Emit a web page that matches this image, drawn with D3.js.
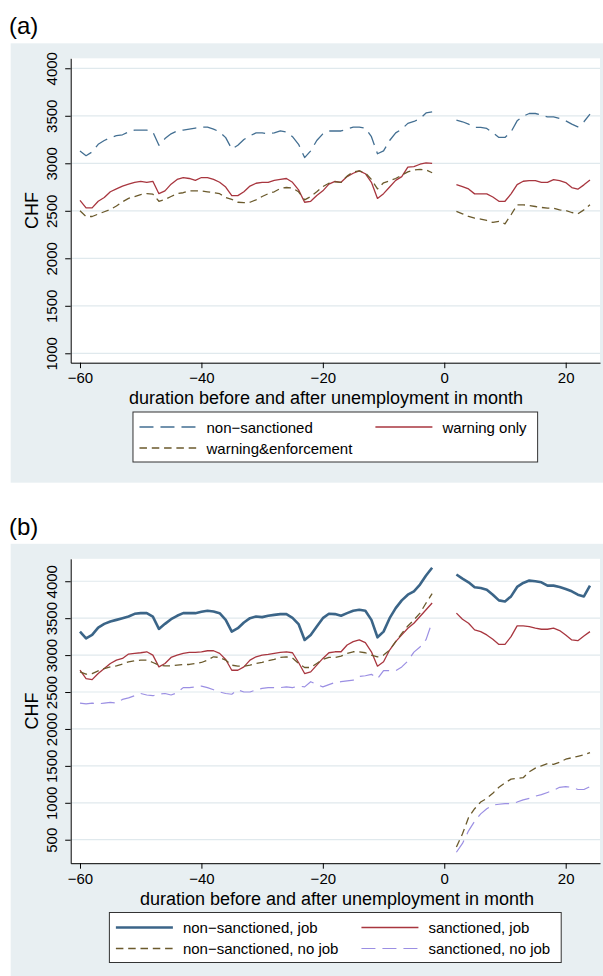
<!DOCTYPE html>
<html>
<head>
<meta charset="utf-8">
<script src="https://cdn.jsdelivr.net/npm/d3@7"></script>
<style>
  body { margin: 0; background: #fff; }
  svg { display: block; font-family: "Liberation Sans", Arial, Helvetica, sans-serif; }
</style>
</head>
<body>
<svg id="chart" width="603" height="976"></svg>
<script>
// months relative to the start of unemployment
const monthsBefore = [-60, -59, -58, -57, -56, -55, -54, -53, -52, -51, -50, -49, -48, -47, -46, -45, -44, -43, -42, -41,
  -40, -39, -38, -37, -36, -35, -34, -33, -32, -31, -30, -29, -28, -27, -26, -25, -24, -23, -22, -21,
  -20, -19, -18, -17, -16, -15, -14, -13, -12, -11, -10, -9, -8, -7, -6, -5, -4, -3, -2];
const monthsAfter = [2, 3, 4, 5, 6, 7, 8, 9, 10, 11, 12, 13, 14, 15, 16, 17, 18, 19, 20, 21, 22, 23, 24];

const xTicks = [-60, -40, -20, 0, 20];
const yTicksA = [1000, 1500, 2000, 2500, 3000, 3500, 4000];
const yTicksB = [500, 1000, 1500, 2000, 2500, 3000, 3500, 4000];

// panel (a)
const aNonSanctionedBefore = [3130, 3080, 3120, 3200, 3240, 3270, 3290, 3300, 3330, 3350, 3350, 3350, 3330, 3190, 3260, 3310, 3340, 3350, 3360, 3370,
  3380, 3380, 3360, 3330, 3270, 3150, 3190, 3250, 3290, 3320, 3320, 3310, 3320, 3340, 3330, 3280, 3200, 3060, 3130, 3240,
  3310, 3340, 3340, 3340, 3360, 3380, 3380, 3370, 3280, 3100, 3130, 3240, 3320, 3360, 3420, 3440, 3470, 3530, 3540];
const aNonSanctionedAfter = [3455, 3437, 3412, 3377, 3377, 3367, 3321, 3272, 3272, 3331, 3447, 3496, 3524, 3524, 3507, 3489, 3489, 3471, 3447, 3412, 3384, 3437, 3517];
const aWarningBefore = [2610, 2530, 2530, 2600, 2640, 2700, 2730, 2760, 2780, 2800, 2810, 2800, 2810, 2680, 2710, 2780, 2830, 2850, 2840, 2820,
  2850, 2850, 2830, 2800, 2750, 2660, 2660, 2700, 2760, 2790, 2800, 2800, 2820, 2830, 2840, 2800, 2720, 2590, 2600, 2660,
  2710, 2780, 2810, 2800, 2860, 2895, 2920, 2890, 2800, 2630, 2680, 2750, 2820, 2860, 2960, 2965, 2990, 3005, 3000];
const aWarningAfter = [2776, 2755, 2730, 2678, 2678, 2678, 2645, 2600, 2600, 2678, 2776, 2811, 2818, 2818, 2800, 2800, 2828, 2818, 2797, 2745, 2727, 2773, 2825];
const aEnforcementBefore = [2500, 2440, 2440, 2465, 2490, 2515, 2550, 2595, 2630, 2650, 2670, 2680, 2675, 2600, 2620, 2650, 2680, 2690, 2710, 2710,
  2710, 2700, 2690, 2680, 2640, 2620, 2590, 2585, 2590, 2615, 2650, 2680, 2700, 2735, 2745, 2740, 2700, 2615, 2650, 2700,
  2755, 2790, 2805, 2800, 2865, 2910, 2920, 2900, 2830, 2730, 2795, 2815, 2840, 2875, 2910, 2930, 2935, 2930, 2900];
const aEnforcementAfter = [2493, 2468, 2440, 2423, 2412, 2398, 2377, 2388, 2363, 2458, 2563, 2563, 2556, 2545, 2535, 2528, 2528, 2510, 2503, 2482, 2468, 2510, 2563];

// panel (b)
const bNonSancJobBefore = [3318, 3227, 3273, 3373, 3423, 3455, 3477, 3500, 3523, 3559, 3568, 3568, 3520, 3355, 3423, 3486, 3532, 3568, 3568, 3568,
  3586, 3600, 3591, 3568, 3477, 3318, 3364, 3441, 3500, 3523, 3514, 3532, 3545, 3555, 3555, 3505, 3420, 3205, 3273, 3386,
  3500, 3559, 3555, 3532, 3568, 3600, 3614, 3600, 3477, 3241, 3318, 3500, 3636, 3741, 3818, 3864, 3955, 4077, 4182];
const bNonSancJobAfter = [4091, 4036, 3986, 3918, 3909, 3886, 3818, 3741, 3727, 3795, 3923, 3977, 4009, 4000, 3986, 3941, 3941, 3923, 3895, 3864, 3818, 3795, 3941];
const bSancJobBefore = [2795, 2682, 2668, 2750, 2818, 2886, 2932, 2955, 3014, 3023, 3032, 3045, 3000, 2841, 2886, 2968, 3000, 3023, 3036, 3036,
  3045, 3059, 3059, 3023, 2941, 2795, 2795, 2841, 2932, 2977, 3000, 3009, 3023, 3036, 3045, 3032, 2900, 2750, 2773, 2864,
  2955, 3032, 3045, 3045, 3136, 3182, 3205, 3168, 3045, 2850, 2909, 3068, 3182, 3273, 3364, 3432, 3523, 3614, 3705];
const bSancJobAfter = [3568, 3486, 3432, 3341, 3318, 3273, 3214, 3145, 3145, 3250, 3395, 3395, 3386, 3364, 3350, 3350, 3364, 3332, 3273, 3205, 3195, 3259, 3318];
const bNonSancNoJobBefore = [2773, 2741, 2750, 2786, 2818, 2841, 2855, 2877, 2909, 2923, 2932, 2932, 2900, 2864, 2855, 2855, 2864, 2873, 2873, 2886,
  2900, 2932, 2977, 2968, 2932, 2864, 2850, 2850, 2864, 2886, 2900, 2923, 2941, 2968, 2977, 2960, 2886, 2832, 2832, 2886,
  2941, 2968, 2968, 2986, 3023, 3045, 3045, 3032, 3000, 2977, 3000, 3068, 3182, 3295, 3395, 3477, 3568, 3705, 3832];
const bNonSancNoJobAfter = [400, 580, 800, 920, 1010, 1060, 1130, 1210, 1270, 1320, 1330, 1340, 1420, 1470, 1500, 1530, 1520, 1550, 1590, 1610, 1630, 1650, 1680];
const bSancNoJobBefore = [2350, 2340, 2350, 2340, 2350, 2360, 2350, 2400, 2420, 2450, 2480, 2460, 2450, 2470, 2480, 2460, 2490, 2560, 2560, 2570,
  2580, 2560, 2530, 2500, 2480, 2470, 2530, 2500, 2500, 2530, 2550, 2560, 2560, 2560, 2570, 2560, 2580, 2570, 2640, 2600,
  2570, 2600, 2630, 2640, 2650, 2660, 2710, 2720, 2740, 2680, 2790, 2790, 2790, 2840, 2920, 3040, 3110, 3210, 3450];
const bSancNoJobAfter = [330, 450, 620, 750, 850, 920, 970, 980, 990, 990, 1010, 1040, 1060, 1090, 1110, 1140, 1170, 1210, 1220, 1210, 1180, 1180, 1220];

const panelFill = "#e8eff2";
const gridColor = "#e0e9ed";

const svg = d3.select("#chart");

const x = d3.scaleLinear()
    .domain([-61.53, 25.65])
    .range([70.7, 600]);

const zip = (months, values) => months.map((m, i) => ({ m: m, v: values[i] }));

function drawPanel(p) {
    const g = svg.append("g").attr("transform", `translate(0,${p.offset})`);

    g.append("text")
        .attr("x", 9)
        .attr("y", 34.3)
        .attr("font-size", 24)
        .text(p.label);

    g.append("rect")
        .attr("x", 10.7).attr("y", 43.3)
        .attr("width", 603 - 10.7).attr("height", 439.4)
        .attr("fill", panelFill);

    g.append("rect")
        .attr("x", 70.7).attr("y", 58.3)
        .attr("width", 600 - 70.7).attr("height", 362.7 - 58.3)
        .attr("fill", "#fff");

    const y = d3.scaleLinear()
        .domain(p.yDomain)
        .range([362.7, 58.3]);

    // grid
    g.append("g").selectAll("line")
        .data(p.yTicks)
        .enter()
        .append("line")
        .attr("x1", 70.7).attr("x2", 600)
        .attr("y1", d => y(d)).attr("y2", d => y(d))
        .attr("stroke", gridColor)
        .attr("stroke-width", 1.2);

    // series
    const line = d3.line().x(d => x(d.m)).y(d => y(d.v));
    p.series.forEach(function (s) {
        [zip(monthsBefore, s.before), zip(monthsAfter, s.after)].forEach(function (seg) {
            g.append("path")
                .datum(seg)
                .attr("d", line)
                .attr("fill", "none")
                .attr("stroke", s.color)
                .attr("stroke-width", s.width)
                .attr("stroke-dasharray", s.dash)
                .attr("stroke-linejoin", "round");
        });
    });

    // y axis
    const yAxis = g.append("g")
        .attr("transform", "translate(70.7,0)")
        .call(d3.axisLeft(y).tickValues(p.yTicks).tickSize(5.5).tickSizeOuter(0).tickFormat(d3.format("d")));
    yAxis.selectAll("text")
        .attr("transform", "rotate(-90)")
        .attr("x", 0)
        .attr("y", -13.3)
        .attr("dy", 0)
        .attr("text-anchor", "middle");

    // x axis
    const xAxis = g.append("g")
        .attr("transform", "translate(0,362.7)")
        .call(d3.axisBottom(x).tickValues(xTicks).tickSize(5.5).tickSizeOuter(0).tickFormat(d3.format("d")));
    xAxis.selectAll("text")
        .attr("y", 20.6)
        .attr("dy", 0);

    [yAxis, xAxis].forEach(function (ax) {
        ax.attr("font-size", 15).attr("font-family", null);
        ax.selectAll("text").attr("fill", "#000");
        ax.selectAll("line, path").attr("stroke", "#000").attr("stroke-width", 1);
    });

    // axis titles
    g.append("text")
        .attr("transform", "translate(37.5,210.5) rotate(-90)")
        .attr("text-anchor", "middle")
        .attr("font-size", 18)
        .text("CHF");

    g.append("text")
        .attr("x", p.titleX)
        .attr("y", 404)
        .attr("text-anchor", "middle")
        .attr("font-size", 18)
        .text("duration before and after unemployment in month");

    // legend
    const leg = g.append("g");
    const box = leg.append("rect")
        .attr("y", 412)
        .attr("height", 50)
        .attr("fill", "#fff")
        .attr("stroke", "#333")
        .attr("stroke-width", 1);

    const keyLen = 57, keyGap = 10, padL = 6.5, padR = 11, colGap = 23;
    const cols = [p.series.filter((s, i) => i % 2 === 0), p.series.filter((s, i) => i % 2 === 1)];
    const colText = cols.map(col => col.map((s, r) => leg.append("text")
        .attr("y", 432.5 + r * 21)
        .attr("font-size", 15)
        .text(s.name)));
    const colWidth = colText.map(col => d3.max(col, t => t.node().getComputedTextLength()));
    const boxW = padL + keyLen + keyGap + colWidth[0] + colGap + keyLen + keyGap + colWidth[1] + padR;
    const boxX = 335.3 - boxW / 2;
    box.attr("x", boxX).attr("width", boxW);

    cols.forEach(function (col, c) {
        const keyX = c === 0 ? boxX + padL : boxX + padL + keyLen + keyGap + colWidth[0] + colGap;
        col.forEach(function (s, r) {
            leg.append("line")
                .attr("x1", keyX).attr("x2", keyX + keyLen)
                .attr("y1", 427 + r * 21).attr("y2", 427 + r * 21)
                .attr("stroke", s.color)
                .attr("stroke-width", s.width)
                .attr("stroke-dasharray", s.dash);
            colText[c][r].attr("x", keyX + keyLen + keyGap);
        });
    });
}

drawPanel({
    label: "(a)",
    offset: 0,
    yDomain: [901, 4105],
    yTicks: yTicksA,
    titleX: 326,
    series: [
        { name: "non\u2212sanctioned", before: aNonSanctionedBefore, after: aNonSanctionedAfter, color: "#436f92", width: 1.3, dash: "14,7" },
        { name: "warning only", before: aWarningBefore, after: aWarningAfter, color: "#a8363f", width: 1.3, dash: null },
        { name: "warning&enforcement", before: aEnforcementBefore, after: aEnforcementAfter, color: "#6b5a2c", width: 1.3, dash: "7.5,4.8" }
    ]
});

drawPanel({
    label: "(b)",
    offset: 500.5,
    yDomain: [182, 4304],
    yTicks: yTicksB,
    titleX: 337,
    series: [
        { name: "non\u2212sanctioned, job", before: bNonSancJobBefore, after: bNonSancJobAfter, color: "#3b6588", width: 2.6, dash: null },
        { name: "sanctioned, job", before: bSancJobBefore, after: bSancJobAfter, color: "#a8363f", width: 1.3, dash: null },
        { name: "non\u2212sanctioned, no job", before: bNonSancNoJobBefore, after: bNonSancNoJobAfter, color: "#6b5a2c", width: 1.3, dash: "7.5,4.8" },
        { name: "sanctioned, no job", before: bSancNoJobBefore, after: bSancNoJobAfter, color: "#9b8fe3", width: 1.2, dash: "14,7" }
    ]
});
</script>
</body>
</html>
